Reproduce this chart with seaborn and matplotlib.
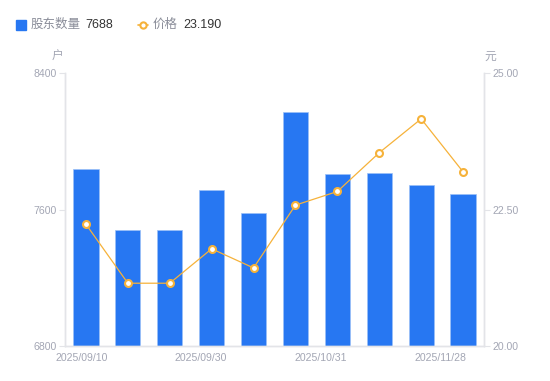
import numpy as np
import pandas as pd
import matplotlib
matplotlib.use("Agg")
import matplotlib.pyplot as plt
from matplotlib.lines import Line2D
import seaborn as sns

# --- datos ---
DATES = ["2025/09/10", "2025/09/19", "2025/09/26", "2025/09/30", "2025/10/10",
         "2025/10/20", "2025/10/31", "2025/11/10", "2025/11/20", "2025/11/28"]
HOLDERS = [7837, 7480, 7480, 7712, 7581, 8170, 7806, 7812, 7742, 7688]
PRICE = [22.23, 21.15, 21.15, 21.78, 21.43, 22.58, 22.83, 23.54, 24.16, 23.19]
SHOWN_LABELS = ["2025/09/10", "2025/09/30", "2025/10/31", "2025/11/28"]

BLUE = "#2777F2"
ORANGE = "#F6B23A"
GREY = "#A3A6B4"
AXIS = "#E3E4E8"

sns.set_theme(style="white")
plt.rcParams["font.family"] = ["Liberation Sans", "Noto Sans CJK SC", "DejaVu Sans"]

df = pd.DataFrame({"date": DATES, "holders": HOLDERS, "price": PRICE})
df["pos"] = np.arange(len(df))

fig = plt.figure(figsize=(5.5, 3.81), dpi=100)
ax = fig.add_axes([65 / 550, 1 - 346 / 381, (484 - 65) / 550, (346 - 73) / 381])

sns.barplot(data=df, x="date", y="holders", color=BLUE, width=0.6,
            edgecolor="#9cc0f7", linewidth=0.5, saturation=1, ax=ax)
ax.set_ylim(6800, 8400)
ax.set_yticks([6800, 7600, 8400])
ax.set_xlim(-0.5, len(df) - 0.5)
# etiquetas del eje x repartidas como en el original
ax.set_xticks(np.linspace(-0.1, 8.45, len(SHOWN_LABELS)))
ax.set_xticklabels(SHOWN_LABELS)
ax.set_xlabel("")
ax.set_ylabel("")

ax2 = ax.twinx()
sns.lineplot(data=df, x="pos", y="price", color=ORANGE, linewidth=0.9,
             marker="o", markersize=5, markerfacecolor="white",
             markeredgecolor=ORANGE, markeredgewidth=1.5, sort=False, ax=ax2)
ax2.set_ylim(20, 25)
ax2.set_yticks([20, 22.5, 25])
ax2.set_yticklabels(["20.00", "22.50", "25.00"])
ax2.set_xlim(-0.5, len(df) - 0.5)
ax2.set_xlabel("")
ax2.set_ylabel("")

for a in (ax, ax2):
    for s in a.spines.values():
        s.set_color(AXIS)
        s.set_linewidth(1)
    a.spines["top"].set_visible(False)
    a.tick_params(colors=GREY, labelsize=7.6, length=4, width=0.8, pad=2)
    a.tick_params(axis="x", length=0, pad=5)
    a.grid(False)
ax.tick_params(axis="y", colors=AXIS, labelcolor=GREY)
ax2.tick_params(axis="y", colors=AXIS, labelcolor=GREY)

# unidades
fig.text(58 / 550, 1 - 57 / 381, "户", color=GREY, fontsize=8.5, ha="center", va="center")
fig.text(490 / 550, 1 - 57 / 381, "元", color=GREY, fontsize=8.5, ha="center", va="center")

# leyenda superior
ly = 1 - 24.5 / 381
fig.add_artist(Line2D([20.5 / 550], [ly], marker="s", markersize=6.5, color=BLUE,
                      linestyle="none", transform=fig.transFigure))
fig.text(31 / 550, ly, "股东数量", color="#8A8D99", fontsize=9, va="center")
fig.text(85 / 550, ly, "7688", color="#333333", fontsize=9, va="center")
fig.add_artist(Line2D([138 / 550, 148 / 550], [ly, ly], color=ORANGE, linewidth=1.2,
                      transform=fig.transFigure))
fig.add_artist(Line2D([143 / 550], [ly], marker="o", markersize=4.5, markerfacecolor="white",
                      markeredgecolor=ORANGE, markeredgewidth=1.5, linestyle="none",
                      transform=fig.transFigure))
fig.text(153 / 550, ly, "价格", color="#8A8D99", fontsize=9, va="center")
fig.text(183 / 550, ly, "23.190", color="#333333", fontsize=9, va="center")

fig.savefig("out.png", dpi=100)
plt.close(fig)
